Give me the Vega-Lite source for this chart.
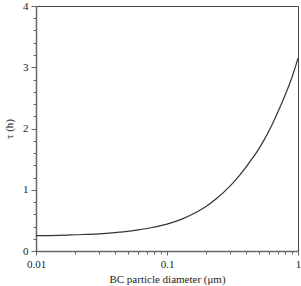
{
  "$schema": "https://vega.github.io/schema/vega-lite/v6.json",
  "width": 262,
  "height": 245,
  "autosize": {"type": "none"},
  "padding": {"left": 36, "top": 6, "right": 3, "bottom": 35},
  "background": "white",
  "config": {
    "view": {"stroke": "#444", "strokeWidth": 1},
    "axis": {
      "labelFont": "Liberation Serif",
      "labelFontSize": 11,
      "labelColor": "#222",
      "titleFont": "Liberation Serif",
      "titleFontSize": 11,
      "titleFontWeight": "normal",
      "titleColor": "#222",
      "domainColor": "#666",
      "domainWidth": 1.5,
      "tickColor": "#666",
      "grid": false
    }
  },
  "data": {
    "values": [
      {"d": 0.01, "tau": 0.25},
      {"d": 0.015, "tau": 0.255},
      {"d": 0.02, "tau": 0.265},
      {"d": 0.03, "tau": 0.28},
      {"d": 0.04, "tau": 0.30},
      {"d": 0.05, "tau": 0.32},
      {"d": 0.06, "tau": 0.345},
      {"d": 0.075, "tau": 0.38},
      {"d": 0.1, "tau": 0.44},
      {"d": 0.13, "tau": 0.52},
      {"d": 0.17, "tau": 0.64},
      {"d": 0.2, "tau": 0.73},
      {"d": 0.24, "tau": 0.86},
      {"d": 0.3, "tau": 1.05},
      {"d": 0.35, "tau": 1.21},
      {"d": 0.43, "tau": 1.46},
      {"d": 0.5, "tau": 1.66},
      {"d": 0.55, "tau": 1.81},
      {"d": 0.63, "tau": 2.05},
      {"d": 0.73, "tau": 2.35},
      {"d": 0.8, "tau": 2.55},
      {"d": 0.87, "tau": 2.75},
      {"d": 0.94, "tau": 2.96},
      {"d": 1.0, "tau": 3.15}
    ]
  },
  "mark": {"type": "line", "color": "#333", "strokeWidth": 1.2, "interpolate": "monotone"},
  "encoding": {
    "x": {
      "field": "d", "type": "quantitative",
      "scale": {"type": "log", "domain": [0.01, 1], "nice": false},
      "axis": {
        "title": "BC particle diameter (μm)",
        "values": [0.01, 0.02, 0.03, 0.04, 0.05, 0.06, 0.07, 0.08, 0.09, 0.1, 0.2, 0.3, 0.4, 0.5, 0.6, 0.7, 0.8, 0.9, 1],
        "labelExpr": "(datum.value == 0.01 || datum.value == 0.1 || datum.value == 1) ? datum.label : ''",
        "format": "~g",
        "tickSize": {"condition": {"test": "datum.value == 0.01 || datum.value == 0.1 || datum.value == 1", "value": 4}, "value": 3},
        "labelPadding": 3, "titlePadding": 4, "labelFlush": false, "labelOverlap": false
      }
    },
    "y": {
      "field": "tau", "type": "quantitative",
      "scale": {"domain": [0, 4], "nice": false},
      "axis": {
        "title": "τ (h)",
        "values": [0, 0.2, 0.4, 0.6, 0.8, 1, 1.2, 1.4, 1.6, 1.8, 2, 2.2, 2.4, 2.6, 2.8, 3, 3.2, 3.4, 3.6, 3.8, 4],
        "labelExpr": "(datum.value % 1 == 0) ? datum.label : ''",
        "format": "~g",
        "tickSize": {"condition": {"test": "datum.value % 1 == 0", "value": 5}, "value": 3},
        "labelPadding": 3, "titlePadding": 8, "labelOverlap": false
      }
    }
  }
}
